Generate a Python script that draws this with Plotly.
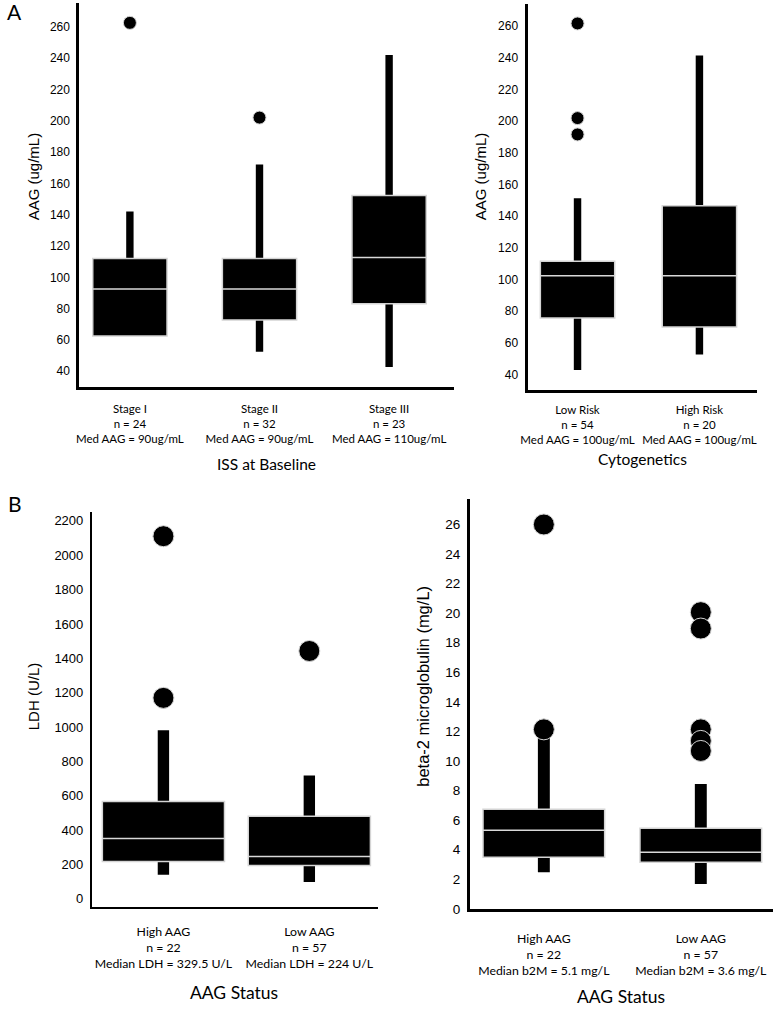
import plotly.graph_objects as go

W, H = 774, 1020

# ---------------- data ----------------
iss_cats = ["Stage I", "Stage II", "Stage III"]
iss_n = [24, 32, 23]
iss_med_txt = ["90ug/mL", "90ug/mL", "110ug/mL"]
iss_q1 = [62.5, 72.7, 83.2]
iss_median = [92.5, 92.5, 112.7]
iss_q3 = [112, 112, 152.3]
iss_lo = [62.5, 52.4, 42.7]
iss_hi = [142, 172, 242]
iss_out = [[262.5], [202], []]

cyto_cats = ["Low Risk", "High Risk"]
cyto_n = [54, 20]
cyto_med_txt = ["100ug/mL", "100ug/mL"]
cyto_q1 = [75.6, 69.9]
cyto_median = [102.3, 102.3]
cyto_q3 = [111.5, 146.6]
cyto_lo = [42.7, 52.5]
cyto_hi = [151.3, 241.4]
cyto_out = [[261.7, 201.9, 191.6], []]

ldh_cats = ["High AAG", "Low AAG"]
ldh_n = [22, 57]
ldh_med_txt = ["329.5 U/L", "224 U/L"]
ldh_q1 = [217.6, 194.6]
ldh_median = [352, 246.5]
ldh_q3 = [567.6, 481]
ldh_lo = [140, 98]
ldh_hi = [981.5, 717.7]
ldh_out = [[2111, 1170], [1443]]

b2m_cats = ["High AAG", "Low AAG"]
b2m_n = [22, 57]
b2m_med_txt = ["5.1 mg/L", "3.6 mg/L"]
b2m_q1 = [3.49, 3.15]
b2m_median = [5.32, 3.82]
b2m_q3 = [6.73, 5.45]
b2m_lo = [2.48, 1.68]
b2m_hi = [12.0, 8.45]
b2m_out = [[26.0, 12.14], [20.07, 18.96, 12.14, 11.36, 10.68]]

# ---------------- helpers ----------------
def px_x(a, b):
    return [a / W, b / W]

def px_y(top, bottom):
    return [1 - bottom / H, 1 - top / H]

fig = go.Figure()

def add_panel(ax, q1, med, q3, lo, hi, outs, box_w, wh_w, msize):
    xa = "x" if ax == 1 else f"x{ax}"
    ya = "y" if ax == 1 else f"y{ax}"
    xs = list(range(len(q1)))
    # whiskers
    fig.add_trace(go.Bar(x=xs, base=q3, y=[h - q for h, q in zip(hi, q3)], width=wh_w,
                         marker=dict(color="black", line=dict(width=0)),
                         xaxis=xa, yaxis=ya, showlegend=False, hoverinfo="skip"))
    fig.add_trace(go.Bar(x=xs, base=lo, y=[q - l for q, l in zip(q1, lo)], width=wh_w,
                         marker=dict(color="black", line=dict(width=0)),
                         xaxis=xa, yaxis=ya, showlegend=False, hoverinfo="skip"))
    # boxes
    fig.add_trace(go.Bar(x=xs, base=q1, y=[b - a for a, b in zip(q1, q3)], width=box_w,
                         marker=dict(color="black", line=dict(color="#d4d4d4", width=1.5)),
                         xaxis=xa, yaxis=ya, showlegend=False))
    # medians
    for i, m in enumerate(med):
        fig.add_trace(go.Scatter(x=[i - box_w / 2, i + box_w / 2], y=[m, m], mode="lines",
                                 line=dict(color="#d8d8d8", width=1.5),
                                 xaxis=xa, yaxis=ya, showlegend=False, hoverinfo="skip"))
    # outliers
    ox, oy = [], []
    for i, o in enumerate(outs):
        for v in o:
            ox.append(i)
            oy.append(v)
    fig.add_trace(go.Scatter(x=ox, y=oy, mode="markers",
                             marker=dict(color="black", size=msize, line=dict(color="#d4d4d4", width=1)),
                             xaxis=xa, yaxis=ya, showlegend=False))

add_panel(1, iss_q1, iss_median, iss_q3, iss_lo, iss_hi, iss_out, 0.573, 0.057, 13)
add_panel(2, cyto_q1, cyto_median, cyto_q3, cyto_lo, cyto_hi, cyto_out, 0.61, 0.061, 13)
add_panel(3, ldh_q1, ldh_median, ldh_q3, ldh_lo, ldh_hi, ldh_out, 0.837, 0.078, 21)
add_panel(4, b2m_q1, b2m_median, b2m_q3, b2m_lo, b2m_hi, b2m_out, 0.775, 0.076, 21)

def ticktext(cats, ns, meds, pre):
    return [f"{c}<br>n = {n}<br>{pre} = {m}" for c, n, m in zip(cats, ns, meds)]

yfont = dict(family="Liberation Sans, Arial", color="black")
xfont = dict(family="Lato", color="black")

def xax(dom, rng, cats, ns, meds, pre, size, lw, standoff):
    return dict(domain=dom, range=rng, showgrid=False, zeroline=False, showline=True,
                linecolor="black", linewidth=lw, ticks="", tickvals=list(range(len(cats))),
                ticktext=ticktext(cats, ns, meds, pre), tickfont=dict(size=size, **xfont),
                ticklabelstandoff=standoff, fixedrange=True)

def yax(dom, rng, dtick, size, lw):
    return dict(domain=dom, range=rng, showgrid=False, zeroline=False, showline=True,
                linecolor="black", linewidth=lw, ticks="", dtick=dtick,
                tickfont=dict(size=size, **yfont), ticklabelstandoff=4, fixedrange=True)

p1x = px_x(73, 451); p1y = px_y(3.3, 390)
p2x = px_x(525.3, 757.3); p2y = px_y(4, 393.3)
p3x = px_x(85.7, 374.3); p3y = px_y(516, 914)
p4x = px_x(467.3, 773); p4y = px_y(503.3, 916)

fig.update_layout(
    width=W, height=H, margin=dict(l=0, r=0, t=0, b=0),
    paper_bgcolor="white", plot_bgcolor="white", barmode="overlay", showlegend=False,
    xaxis=xax(p1x, [-0.39, 2.5], iss_cats, iss_n, iss_med_txt, "Med AAG", 11.5, 3, 9),
    yaxis=yax(p1y, [30, 275], 20, 12, 3),
    xaxis2=dict(anchor="y2", **xax(p2x, [-0.41, 1.476], cyto_cats, cyto_n, cyto_med_txt, "Med AAG", 11.5, 3, 7)),
    yaxis2=dict(anchor="x2", **yax(p2y, [30, 274], 20, 12, 3)),
    xaxis3=dict(anchor="y3", **xax(p3x, [-0.49, 1.47], ldh_cats, ldh_n, ldh_med_txt, "Median LDH", 12.3, 2, 12)),
    yaxis3=dict(anchor="x3", **yax(p3y, [-46, 2252], 200, 13, 2)),
    xaxis4=dict(anchor="y4", **xax(p4x, [-0.47, 1.46], b2m_cats, b2m_n, b2m_med_txt, "Median b2M", 12.3, 3, 16)),
    yaxis4=dict(anchor="x4", **yax(p4y, [0, 27.7], 2, 13.5, 3)),
)

def ann(text, x, y, size, family, angle=0):
    fig.add_annotation(text=text, x=x / W, y=1 - y / H, xref="paper", yref="paper",
                       showarrow=False, textangle=angle, xanchor="center", yanchor="middle",
                       font=dict(size=size, family=family, color="black"))

# y-axis titles
ann("AAG (ug/mL)", 27, 178, 15, "Liberation Sans, Arial", -90)
ann("AAG (ug/mL)", 478, 178, 15, "Liberation Sans, Arial", -90)
ann("LDH (U/L)", 27, 702, 15, "Liberation Sans, Arial", -90)
ann("beta-2 microglobulin (mg/L)", 419, 692, 16.5, "Liberation Sans, Arial", -90)
# x-axis titles
ann("ISS at Baseline", 262, 468, 15.5, "Lato")
ann("Cytogenetics", 641, 463, 15.5, "Lato")
ann("AAG Status", 229, 1000, 17.5, "Lato")
ann("AAG Status", 620, 1004, 17.5, "Lato")
# panel letters
ann("A", 8, 12, 21, "Lato")
ann("B", 8, 507, 21, "Lato")

fig.write_html("out.html", config={"displayModeBar": False},
               post_script="document.body.style.margin='0';")
